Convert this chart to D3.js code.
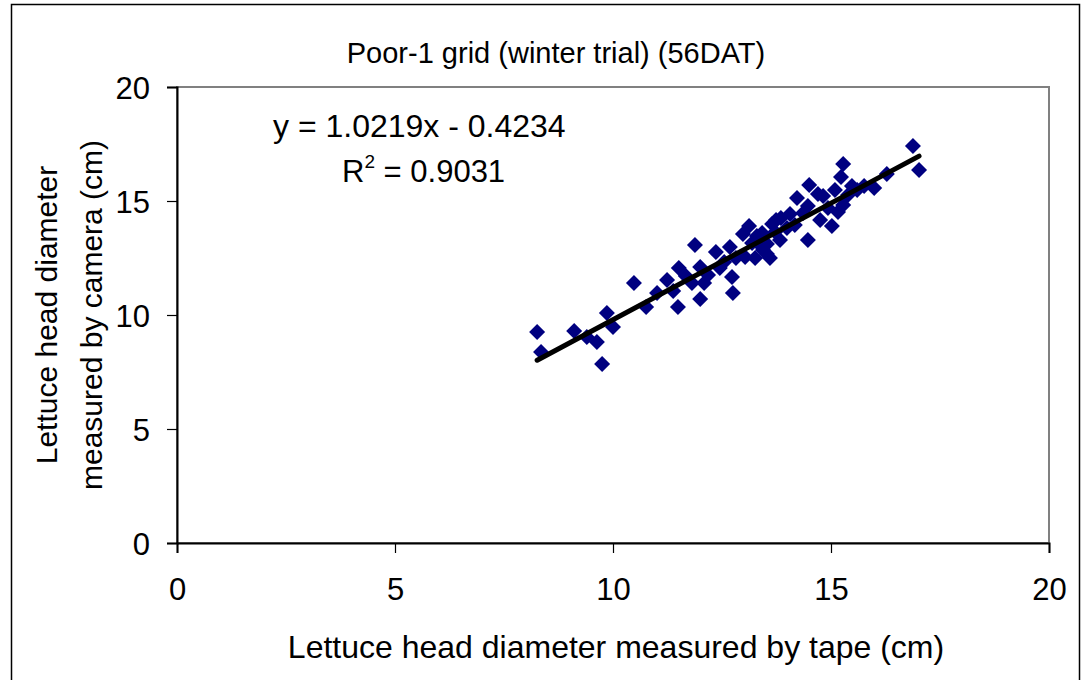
<!DOCTYPE html>
<html>
<head>
<meta charset="utf-8">
<script src="https://cdn.jsdelivr.net/npm/d3@7"></script>
<style>
  body { margin: 0; background: #fff; }
  svg { display: block; font-family: Arial, "Liberation Sans", sans-serif; }
</style>
</head>
<body>
<svg id="chart" width="1085" height="680"></svg>
<script>
'use strict';

// data
const tapeCm = [
  8.26, 8.35, 9.11, 9.40, 9.63, 9.75, 9.86, 10.00, 10.48, 10.76,
  11.01, 11.24, 11.38, 11.49, 11.51, 11.67, 11.81, 11.88, 12.00, 12.00,
  12.09, 12.18, 12.36, 12.45, 12.55, 12.68, 12.73, 12.75, 12.82, 12.98,
  13.03, 13.12, 13.19, 13.26, 13.30, 13.42, 13.44, 13.53, 13.53, 13.60,
  13.65, 13.74, 13.83, 13.85, 13.99, 14.06, 14.22, 14.36, 14.47, 14.47,
  14.50, 14.70, 14.75, 14.82, 14.93, 15.02, 15.09, 15.16, 15.23, 15.28,
  15.28, 15.39, 15.48, 15.60, 15.76, 15.99, 16.28, 16.88, 17.02, 13.72,
  13.37, 14.17
];
const cameraCm = [
  9.25, 8.38, 9.30, 9.04, 8.82, 7.85, 10.09, 9.47, 11.40, 10.35,
  10.96, 11.54, 11.05, 10.35, 12.06, 11.71, 11.40, 13.07, 12.11, 10.70,
  11.40, 11.75, 12.76, 12.06, 12.32, 12.98, 11.67, 10.96, 12.50, 13.55,
  12.54, 13.90, 13.16, 12.50, 13.46, 13.60, 12.85, 13.11, 12.68, 12.50,
  13.99, 14.17, 13.29, 14.25, 13.82, 14.43, 15.13, 14.47, 14.78, 13.29,
  15.70, 15.31, 14.17, 15.22, 14.69, 13.90, 15.48, 14.52, 16.05, 16.62,
  14.82, 15.26, 15.66, 15.48, 15.66, 15.57, 16.18, 17.41, 16.36, 13.64,
  13.07, 13.95
];
const xTicks = [0, 5, 10, 15, 20];
const yTicks = [0, 5, 10, 15, 20];
const slope = 1.0219, intercept = -0.4234, rSquared = '0.9031';
const title = 'Poor-1 grid (winter trial) (56DAT)';
const xTitle = 'Lettuce head diameter measured by tape (cm)';
const yTitle = ['Lettuce head diameter', 'measured by camera (cm)'];

const margin = { top: 87, right: 36, bottom: 137, left: 177 };
const width = 1085 - margin.left - margin.right,
      height = 680 - margin.top - margin.bottom;

const svg = d3.select('#chart');

// outer chart border
svg.append('rect')
    .attr('x', 11.5).attr('y', 4.5)
    .attr('width', 1068).attr('height', 700)
    .attr('fill', 'none').attr('stroke', '#000').attr('stroke-width', 1.5);

const g = svg.append('g')
    .attr('transform', `translate(${margin.left},${margin.top})`);

const x = d3.scaleLinear().domain([0, 20]).range([0, width]);
const y = d3.scaleLinear().domain([0, 20]).range([height, 0]);

// plot frame (grey top/right)
g.append('rect')
    .attr('width', width).attr('height', height)
    .attr('fill', 'none').attr('stroke', '#808080').attr('stroke-width', 2);

// axes
const xAxis = g.append('g')
    .attr('transform', `translate(0,${height})`)
    .call(d3.axisBottom(x).tickValues(xTicks).tickSize(10).tickPadding(25));
const yAxis = g.append('g')
    .call(d3.axisLeft(y).tickValues(yTicks).tickSize(10).tickPadding(17));

[xAxis, yAxis].forEach(a => {
  a.select('.domain').attr('stroke', '#000').attr('stroke-width', 2);
  a.selectAll('.tick line').attr('stroke', '#000').attr('stroke-width', 1.2);
  a.selectAll('.tick text')
      .attr('fill', '#000')
      .style('font-family', 'Arial, "Liberation Sans", sans-serif')
      .style('font-size', '31px');
});
yAxis.selectAll('.tick text').attr('dy', '0.36em');

// points
const pts = tapeCm.map((v, i) => ({ x: v, y: cameraCm[i] }));
g.append('g').selectAll('path')
    .data(pts)
  .enter().append('path')
    .attr('d', d3.symbol(d3.symbolSquare, 128))
    .attr('transform', d => `translate(${x(d.x)},${y(d.y)}) rotate(45)`)
    .attr('fill', '#000080');

// trend line
const ext = d3.extent(tapeCm);
g.append('line')
    .attr('x1', x(ext[0])).attr('y1', y(slope * ext[0] + intercept))
    .attr('x2', x(ext[1])).attr('y2', y(slope * ext[1] + intercept))
    .attr('stroke', '#000').attr('stroke-width', 5).attr('stroke-linecap', 'round');

// title
svg.append('text')
    .attr('x', 556).attr('y', 63)
    .attr('text-anchor', 'middle')
    .style('font-size', '29px')
    .text(title);

// equation
svg.append('text')
    .attr('x', 273).attr('y', 137)
    .style('font-size', '32px')
    .text(`y = ${slope}x - ${Math.abs(intercept)}`);
const r2 = svg.append('text')
    .attr('x', 342).attr('y', 182)
    .style('font-size', '31px');
r2.append('tspan').text('R');
r2.append('tspan').attr('dy', -14).style('font-size', '19px').text('2');
r2.append('tspan').attr('dy', 14).text(' = ' + rSquared);

// axis titles
svg.append('text')
    .attr('x', 616).attr('y', 658)
    .attr('text-anchor', 'middle')
    .style('font-size', '32px')
    .text(xTitle);

const yt = svg.append('text')
    .attr('transform', `translate(57,${margin.top + height / 2}) rotate(-90)`)
    .attr('text-anchor', 'middle')
    .style('font-size', '30px');
yTitle.forEach((t, i) => {
  yt.append('tspan').attr('x', 0).attr('y', i * 45).text(t);
});
</script>
</body>
</html>
